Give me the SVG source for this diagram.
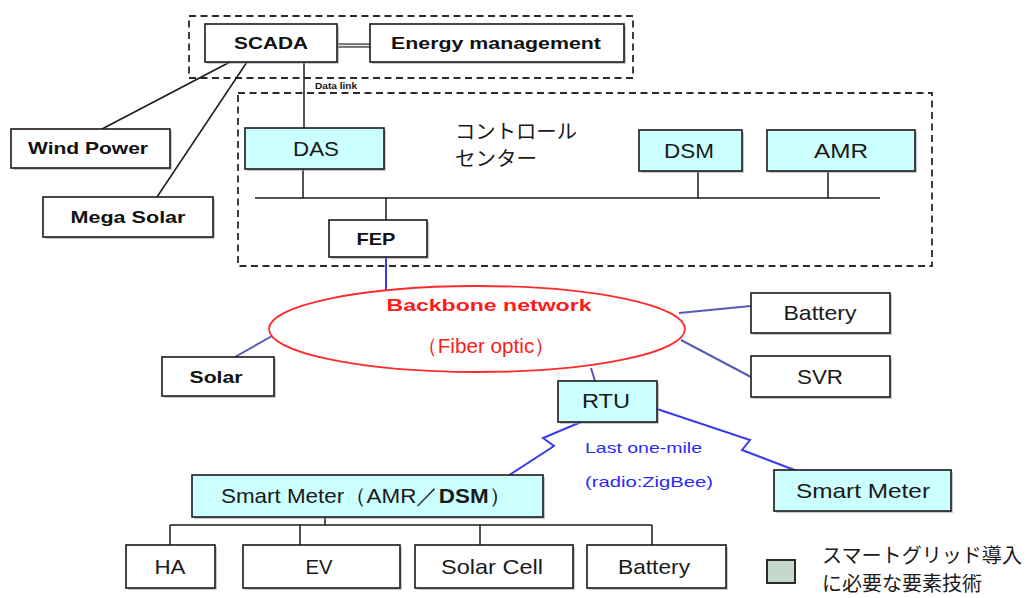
<svg xmlns="http://www.w3.org/2000/svg" width="1027" height="598" viewBox="0 0 1027 598">
  <style>
    .bg { fill: #ffffff; }
    .box { fill: #ffffff; stroke: #1a1a1a; stroke-width: 1.6; }
    .key { fill: #ccffff; stroke: #1a1a1a; stroke-width: 1.6; }
    .shadow { fill: #9a9a9a; opacity: 0.55; }
    .group { fill: none; stroke: #2a2a2a; stroke-width: 1.8; stroke-dasharray: 7 4.5; }
    .t { font-family: "Liberation Sans", Arial, sans-serif; font-size: 21px; fill: #1a1a1a; text-anchor: middle; }
    .tb { font-family: "Liberation Sans", Arial, sans-serif; font-size: 17px; font-weight: bold; fill: #111111; text-anchor: middle; }
    .jp { font-family: "Noto Sans CJK JP", "Noto Sans", sans-serif; font-size: 20px; fill: #1a1a1a; }
    .red { fill: #ff1a1a; }
    .blue { font-family: "Liberation Sans", Arial, sans-serif; font-size: 15px; fill: #2a2aff; }
    .wire { fill: none; stroke: #1a1a1a; stroke-width: 1.5; }
    .link { fill: none; stroke: #5a5ab4; stroke-width: 2; }
    .radio { fill: none; stroke: #3a3aee; stroke-width: 2; stroke-linejoin: miter; }
  </style>

  <rect class="bg" x="0" y="0" width="1027" height="598"/>

  <!-- dashed grouping frames -->
  <g id="frames">
    <rect class="group" x="189" y="16" width="444" height="62"/>
    <rect class="group" x="238" y="93" width="694" height="173"/>
    <text x="315" y="89" font-family="Liberation Sans, Arial, sans-serif" font-size="9" font-weight="bold" fill="#111" textLength="42" lengthAdjust="spacingAndGlyphs">Data link</text>
    <text class="jp" x="455" y="139" textLength="122" lengthAdjust="spacingAndGlyphs">コントロール</text>
    <text class="jp" x="455" y="166" textLength="82" lengthAdjust="spacingAndGlyphs">センター</text>
  </g>

  <!-- connectors -->
  <g id="connectors">
    <!-- SCADA to Energy management (double rule) -->
    <line x1="337" y1="45.5" x2="370" y2="45.5" stroke="#555" stroke-width="4.5"/>
    <line x1="337" y1="45.5" x2="370" y2="45.5" stroke="#e8e8e8" stroke-width="1.5"/>
    <!-- SCADA down-links -->
    <line class="wire" x1="230" y1="62" x2="102" y2="129"/>
    <line class="wire" x1="247" y1="62" x2="157" y2="197"/>
    <line class="wire" x1="304" y1="62" x2="304" y2="128"/>
    <!-- control-centre bus -->
    <line class="wire" x1="255" y1="198" x2="880" y2="198"/>
    <line class="wire" x1="303" y1="169" x2="303" y2="198"/>
    <line class="wire" x1="698" y1="171" x2="698" y2="198"/>
    <line class="wire" x1="828" y1="171" x2="828" y2="198"/>
    <line class="wire" x1="386" y1="198" x2="386" y2="220"/>
    <!-- FEP to backbone -->
    <line class="radio" x1="386" y1="257" x2="386" y2="290"/>
    <!-- backbone spokes -->
    <line class="link" x1="235" y1="357" x2="272" y2="336"/>
    <line class="link" x1="679" y1="313" x2="751" y2="306"/>
    <line class="link" x1="681" y1="340" x2="751" y2="377"/>
    <line class="link" x1="591" y1="368" x2="595" y2="381"/>
    <!-- radio last one-mile -->
    <polyline class="radio" points="581,422 543,438 554,446 508,476"/>
    <polyline class="radio" points="657,409 750,440 742,450 797,471"/>
    <!-- home-side tree -->
    <line class="wire" x1="325" y1="517" x2="325" y2="525"/>
    <line class="wire" x1="170" y1="525" x2="652" y2="525"/>
    <line class="wire" x1="170" y1="525" x2="170" y2="545"/>
    <line class="wire" x1="300" y1="525" x2="300" y2="545"/>
    <line class="wire" x1="480" y1="525" x2="480" y2="545"/>
    <line class="wire" x1="652" y1="525" x2="652" y2="545"/>
  </g>

  <!-- nodes -->
  <g id="scada">
    <rect class="shadow" x="207" y="26" width="132" height="38"/>
    <rect class="box" x="205" y="24" width="132" height="38"/>
    <text class="tb" x="271" y="49" textLength="74" lengthAdjust="spacingAndGlyphs">SCADA</text>
  </g>
  <g id="energy-management">
    <rect class="shadow" x="372" y="26" width="254" height="38"/>
    <rect class="box" x="370" y="24" width="254" height="38"/>
    <text class="tb" x="496" y="49" textLength="210" lengthAdjust="spacingAndGlyphs">Energy management</text>
  </g>
  <g id="wind-power">
    <rect class="shadow" x="13" y="131" width="159" height="39"/>
    <rect class="box" x="11" y="129" width="159" height="39"/>
    <text class="tb" x="88" y="154" textLength="120" lengthAdjust="spacingAndGlyphs">Wind Power</text>
  </g>
  <g id="mega-solar">
    <rect class="shadow" x="45" y="199" width="170" height="40"/>
    <rect class="box" x="43" y="197" width="170" height="40"/>
    <text class="tb" x="128" y="223" textLength="115" lengthAdjust="spacingAndGlyphs">Mega Solar</text>
  </g>
  <g id="das">
    <rect class="shadow" x="247" y="130" width="139" height="41"/>
    <rect class="key" x="245" y="128" width="139" height="41"/>
    <text class="t" x="316" y="156" textLength="46" lengthAdjust="spacingAndGlyphs">DAS</text>
  </g>
  <g id="dsm">
    <rect class="shadow" x="641" y="132" width="103" height="41"/>
    <rect class="key" x="639" y="130" width="103" height="41"/>
    <text class="t" x="689" y="158" textLength="50" lengthAdjust="spacingAndGlyphs">DSM</text>
  </g>
  <g id="amr">
    <rect class="shadow" x="769" y="132" width="148" height="41"/>
    <rect class="key" x="767" y="130" width="148" height="41"/>
    <text class="t" x="841" y="158" textLength="54" lengthAdjust="spacingAndGlyphs">AMR</text>
  </g>
  <g id="fep">
    <rect class="shadow" x="331" y="222" width="98" height="37"/>
    <rect class="box" x="329" y="220" width="98" height="37"/>
    <text class="tb" x="376" y="245" textLength="39" lengthAdjust="spacingAndGlyphs">FEP</text>
  </g>
  <g id="backbone-network">
    <ellipse cx="477" cy="329" rx="208" ry="43" fill="#ffffff" stroke="#ff2a2a" stroke-width="1.8"/>
    <text class="tb red" x="489" y="311" font-size="19" textLength="205" lengthAdjust="spacingAndGlyphs">Backbone network</text>
    <text class="t red" x="486" y="353" textLength="138" lengthAdjust="spacingAndGlyphs">（Fiber optic）</text>
  </g>
  <g id="solar">
    <rect class="shadow" x="164" y="359" width="112" height="39"/>
    <rect class="box" x="162" y="357" width="112" height="39"/>
    <text class="tb" x="216" y="383" textLength="53" lengthAdjust="spacingAndGlyphs">Solar</text>
  </g>
  <g id="battery">
    <rect class="shadow" x="753" y="295" width="139" height="40"/>
    <rect class="box" x="751" y="293" width="139" height="40"/>
    <text class="t" x="820" y="320" textLength="73" lengthAdjust="spacingAndGlyphs">Battery</text>
  </g>
  <g id="svr">
    <rect class="shadow" x="753" y="358" width="139" height="41"/>
    <rect class="box" x="751" y="356" width="139" height="41"/>
    <text class="t" x="820" y="384" textLength="46" lengthAdjust="spacingAndGlyphs">SVR</text>
  </g>
  <g id="rtu">
    <rect class="shadow" x="560" y="383" width="99" height="41"/>
    <rect class="key" x="558" y="381" width="99" height="41"/>
    <text class="t" x="606" y="408" textLength="48" lengthAdjust="spacingAndGlyphs">RTU</text>
  </g>
  <g id="last-one-mile">
    <text class="blue" x="585" y="453" textLength="117" lengthAdjust="spacingAndGlyphs">Last one-mile</text>
    <text class="blue" x="585" y="487" textLength="128" lengthAdjust="spacingAndGlyphs">(radio:ZigBee)</text>
  </g>
  <g id="smart-meter-amr-dsm">
    <rect class="shadow" x="194" y="477" width="351" height="42"/>
    <rect class="key" x="192" y="475" width="351" height="42"/>
    <text class="t" x="366" y="503" textLength="290" lengthAdjust="spacingAndGlyphs">Smart Meter（AMR／<tspan font-weight="bold">DSM</tspan>）</text>
  </g>
  <g id="smart-meter">
    <rect class="shadow" x="776" y="472" width="177" height="41"/>
    <rect class="key" x="774" y="470" width="177" height="41"/>
    <text class="t" x="863" y="498" textLength="134" lengthAdjust="spacingAndGlyphs">Smart Meter</text>
  </g>
  <g id="ha">
    <rect class="shadow" x="128" y="547" width="89" height="43"/>
    <rect class="box" x="126" y="545" width="89" height="43"/>
    <text class="t" x="170" y="574" textLength="31" lengthAdjust="spacingAndGlyphs">HA</text>
  </g>
  <g id="ev">
    <rect class="shadow" x="245" y="547" width="157" height="43"/>
    <rect class="box" x="243" y="545" width="157" height="43"/>
    <text class="t" x="319" y="574" textLength="27" lengthAdjust="spacingAndGlyphs">EV</text>
  </g>
  <g id="solar-cell">
    <rect class="shadow" x="417" y="547" width="158" height="43"/>
    <rect class="box" x="415" y="545" width="158" height="43"/>
    <text class="t" x="492" y="574" textLength="102" lengthAdjust="spacingAndGlyphs">Solar Cell</text>
  </g>
  <g id="home-battery">
    <rect class="shadow" x="589" y="547" width="139" height="43"/>
    <rect class="box" x="587" y="545" width="139" height="43"/>
    <text class="t" x="654" y="574" textLength="72" lengthAdjust="spacingAndGlyphs">Battery</text>
  </g>

  <!-- key -->
  <g id="legend">
    <rect x="767" y="560" width="28" height="23" fill="#c4d9cc" stroke="#2a2a2a" stroke-width="2"/>
    <text class="jp" x="822" y="563" font-size="18" textLength="200" lengthAdjust="spacingAndGlyphs">スマートグリッド導入</text>
    <text class="jp" x="822" y="591" font-size="18" textLength="160" lengthAdjust="spacingAndGlyphs">に必要な要素技術</text>
  </g>
</svg>
